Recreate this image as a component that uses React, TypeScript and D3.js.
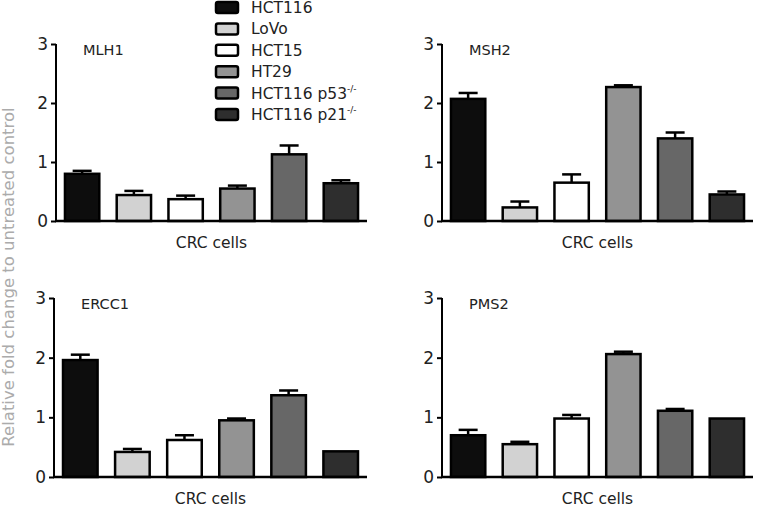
import React, { useEffect, useRef } from "react";
import * as d3 from "d3";

const cellLines = ["HCT116", "LoVo", "HCT15", "HT29", "HCT116 p53", "HCT116 p21"];
const legendSup = ["", "", "", "", "-/-", "-/-"];
const fills = ["#0d0d0d", "#d2d2d2", "#ffffff", "#939393", "#676767", "#2e2e2e"];

const genes = ["MLH1", "MSH2", "ERCC1", "PMS2"];
const mlh1Mean = [0.8, 0.44, 0.37, 0.55, 1.13, 0.64];
const mlh1Err = [0.05, 0.07, 0.06, 0.05, 0.15, 0.05];
const msh2Mean = [2.07, 0.23, 0.65, 2.27, 1.4, 0.45];
const msh2Err = [0.1, 0.1, 0.14, 0.03, 0.1, 0.05];
const ercc1Mean = [1.96, 0.42, 0.62, 0.95, 1.37, 0.43];
const ercc1Err = [0.09, 0.05, 0.08, 0.03, 0.08, 0];
const pms2Mean = [0.7, 0.55, 0.98, 2.06, 1.11, 0.98];
const pms2Err = [0.09, 0.04, 0.06, 0.04, 0.03, 0];
const yTicks = [0, 1, 2, 3];
const xLabel = "CRC cells";
const yLabel = "Relative fold change to untreated control";

const means = [mlh1Mean, msh2Mean, ercc1Mean, pms2Mean];
const errs = [mlh1Err, msh2Err, ercc1Err, pms2Err];

const W = 757;
const H = 507;
const FONT = "'DejaVu Sans', Verdana, sans-serif";

const panels = [
  { x0: 56, x1: 367, yTop: 44, yBot: 221 },
  { x0: 442, x1: 753, yTop: 44, yBot: 221 },
  { x0: 54, x1: 367, yTop: 298, yBot: 477 },
  { x0: 442, x1: 753, yTop: 298, yBot: 477 },
];

export default function App() {
  const ref = useRef<SVGSVGElement>(null);

  useEffect(() => {
    const svg = d3.select(ref.current);
    svg.selectAll("*").remove();
    svg.append("rect").attr("width", W).attr("height", H).attr("fill", "#fff");

    genes.forEach((gene, gi) => {
      const p = panels[gi];
      const g = svg.append("g");
      const y = d3.scaleLinear().domain([0, 3]).range([p.yBot, p.yTop]);
      const x = d3
        .scaleBand<string>()
        .domain(cellLines)
        .range([p.x0, p.x1])
        .paddingInner(0.29)
        .paddingOuter(0.15);

      const bw = x.bandwidth();
      cellLines.forEach((c, i) => {
        const v = means[gi][i];
        const e = errs[gi][i];
        const bx = x(c)!;
        if (e > 0) {
          const cx = bx + bw / 2;
          g.append("line")
            .attr("x1", cx).attr("x2", cx)
            .attr("y1", y(v)).attr("y2", y(v + e))
            .attr("stroke", "#000").attr("stroke-width", 2.5);
          g.append("line")
            .attr("x1", cx - 9.5).attr("x2", cx + 9.5)
            .attr("y1", y(v + e)).attr("y2", y(v + e))
            .attr("stroke", "#000").attr("stroke-width", 2.5);
        }
        g.append("rect")
          .attr("x", bx + 1.2)
          .attr("y", y(v))
          .attr("width", bw - 2.4)
          .attr("height", y(0) - y(v))
          .attr("fill", fills[i])
          .attr("stroke", "#000")
          .attr("stroke-width", 2.5);
      });

      const ax = g
        .append("g")
        .attr("transform", `translate(${p.x0},0)`)
        .call(
          d3.axisLeft(y).tickValues(yTicks).tickSize(5).tickPadding(3).tickFormat(d3.format("d")) as any
        );
      ax.select(".domain").attr("stroke-width", 2).attr("d", `M-0,${p.yTop}H0V${p.yBot}`);
      ax.selectAll(".tick line").attr("stroke-width", 2);
      ax.selectAll(".tick text")
        .attr("font-family", FONT)
        .attr("font-size", 17)
        .attr("fill", "#222");

      const xa = g
        .append("g")
        .attr("transform", `translate(0,${p.yBot})`)
        .call(d3.axisBottom(x).tickSize(0).tickFormat(() => "") as any);
      xa.select(".domain").attr("stroke-width", 2.5).attr("d", `M${p.x0 - 1},0H${p.x1}`);

      g.append("text")
        .attr("x", p.x0 + 27)
        .attr("y", p.yTop + 11)
        .attr("font-family", FONT)
        .attr("font-size", 14.5)
        .attr("fill", "#222")
        .text(gene);

      g.append("text")
        .attr("x", (p.x0 + p.x1) / 2)
        .attr("y", p.yBot + 27)
        .attr("text-anchor", "middle")
        .attr("font-family", FONT)
        .attr("font-size", 15.5)
        .attr("fill", "#222")
        .text(xLabel);
    });

    const lg = svg.append("g");
    cellLines.forEach((c, i) => {
      const cy = 7.5 + i * 21.4;
      lg.append("rect")
        .attr("x", 216)
        .attr("y", cy - 5.5)
        .attr("width", 22)
        .attr("height", 11)
        .attr("rx", 2)
        .attr("fill", fills[i])
        .attr("stroke", "#000")
        .attr("stroke-width", 2.5);
      const t = lg
        .append("text")
        .attr("x", 251)
        .attr("y", cy + 5.5)
        .attr("font-family", FONT)
        .attr("font-size", 15.5)
        .attr("fill", "#222")
        .text(c);
      if (legendSup[i]) {
        t.append("tspan")
          .attr("dy", -7)
          .attr("font-size", 9)
          .text(legendSup[i]);
      }
    });

    svg
      .append("text")
      .attr("transform", `translate(14,277) rotate(-90)`)
      .attr("text-anchor", "middle")
      .attr("font-family", FONT)
      .attr("font-size", 16.5)
      .attr("fill", "#ababab")
      .text(yLabel);
  }, []);

  return (
    <svg
      ref={ref}
      width={W}
      height={H}
      style={{ position: "absolute", left: 0, top: 0 }}
    />
  );
}
